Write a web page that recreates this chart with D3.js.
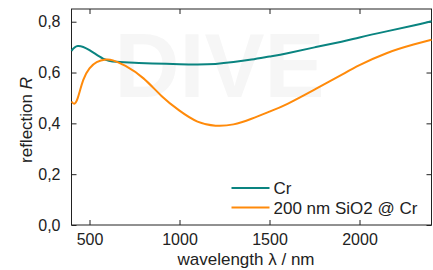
<!DOCTYPE html>
<html>
<head>
<meta charset="utf-8">
<script src="https://d3js.org/d3.v7.min.js"></script>
<style>
	body { margin: 0; background: #fff; }
	text { font-family: "Liberation Sans", Arial, sans-serif; fill: #222; }
</style>
</head>
<body>
<svg id="chart" width="433" height="270"></svg>
<script>
// wavelength (nm) and reflection
var wl_cr = [400, 435, 500, 575, 650, 750, 850, 1000, 1100, 1200, 1300, 1400, 1500, 1600, 1750, 1900, 2000, 2150, 2300, 2400];
var R_cr  = [0.685, 0.704, 0.688, 0.655, 0.642, 0.638, 0.636, 0.633, 0.632, 0.634, 0.641, 0.651, 0.663, 0.676, 0.699, 0.721, 0.738, 0.762, 0.785, 0.802];

var wl_sio2 = [400, 415, 435, 465, 500, 540, 590, 630, 700, 800, 900, 1000, 1100, 1200, 1300, 1400, 1500, 1600, 1750, 1900, 2000, 2150, 2300, 2400];
var R_sio2  = [0.486, 0.477, 0.500, 0.570, 0.616, 0.641, 0.651, 0.648, 0.626, 0.577, 0.508, 0.450, 0.407, 0.391, 0.396, 0.418, 0.446, 0.477, 0.533, 0.591, 0.629, 0.676, 0.710, 0.729];

var xTicks = [500, 1000, 1500, 2000];
var yTicks = [0, 0.2, 0.4, 0.6, 0.8];
var legendNames = ["Cr", "200 nm SiO2 @ Cr"];
var lineColors = ["#0a8480", "#ff8a0a"];

var margin = {top: 9, right: 1.5, bottom: 45, left: 71.5};
var W = 433, H = 270;
var w = W - margin.left - margin.right, h = H - margin.top - margin.bottom;

var svg = d3.select("#chart");
var g = svg.append("g").attr("transform", "translate(" + margin.left + "," + margin.top + ")");

var x = d3.scaleLinear().domain([400, 2400]).range([0, w]);
var y = d3.scaleLinear().domain([0, 0.85]).range([h, 0]);

var comma = d3.formatLocale({decimal: ",", thousands: "", grouping: [3], currency: ["", ""]}).format(".1f");

// faint watermark
g.append("text")
	.attr("x", 43).attr("y", 88)
	.style("font-size", "90px")
	.style("font-weight", "bold")
	.style("fill", "#f6f6f6")
	.text("DIVE");

function styleAxis(sel) {
	sel.select(".domain").remove();
	sel.selectAll("line").attr("stroke", "#222");
	sel.selectAll("text").style("font-size", "16px").style("fill", "#222");
}

g.append("g").attr("transform", "translate(0," + h + ")")
	.call(d3.axisBottom(x).tickValues(xTicks).tickSizeInner(-5).tickSizeOuter(0).tickPadding(9).tickFormat(d3.format("d")))
	.call(styleAxis);
g.append("g")
	.call(d3.axisTop(x).tickValues(xTicks).tickSizeInner(-5).tickSizeOuter(0).tickFormat(""))
	.call(styleAxis);
g.append("g")
	.call(d3.axisLeft(y).tickValues(yTicks).tickSizeInner(-5).tickSizeOuter(0).tickPadding(11).tickFormat(comma))
	.call(styleAxis);
g.append("g").attr("transform", "translate(" + w + ",0)")
	.call(d3.axisRight(y).tickValues(yTicks).tickSizeInner(-5).tickSizeOuter(0).tickFormat(""))
	.call(styleAxis);

g.append("rect")
	.attr("width", w).attr("height", h)
	.attr("fill", "none").attr("stroke", "#222").attr("stroke-width", 1);

var line = d3.line()
	.x(function(d){ return x(d[0]); })
	.y(function(d){ return y(d[1]); })
	.curve(d3.curveNatural);

var series = [d3.zip(wl_cr, R_cr), d3.zip(wl_sio2, R_sio2)];

g.selectAll(".curve")
	.data(series)
.enter().append("path")
	.attr("class", "curve")
	.attr("d", line)
	.attr("fill", "none")
	.attr("stroke", function(d, i){ return lineColors[i]; })
	.attr("stroke-width", 2);

// legend
var leg = g.selectAll(".leg")
	.data(legendNames)
.enter().append("g")
	.attr("class", "leg")
	.attr("transform", function(d, i){ return "translate(160," + (179 + i * 19.5) + ")"; });
leg.append("line")
	.attr("x1", 0).attr("x2", 38)
	.attr("stroke", function(d, i){ return lineColors[i]; })
	.attr("stroke-width", 2);
leg.append("text")
	.attr("x", 42).attr("y", 6)
	.style("font-size", "17px")
	.text(function(d){ return d; });

// axis titles
svg.append("text")
	.attr("x", 246).attr("y", 265)
	.attr("text-anchor", "middle")
	.style("font-size", "17px")
	.text("wavelength λ / nm");

var yl = svg.append("text")
	.attr("transform", "translate(32,120) rotate(-90)")
	.attr("text-anchor", "middle")
	.style("font-size", "17px");
yl.append("tspan").text("reflection ");
yl.append("tspan").style("font-style", "italic").text("R");
</script>
</body>
</html>
